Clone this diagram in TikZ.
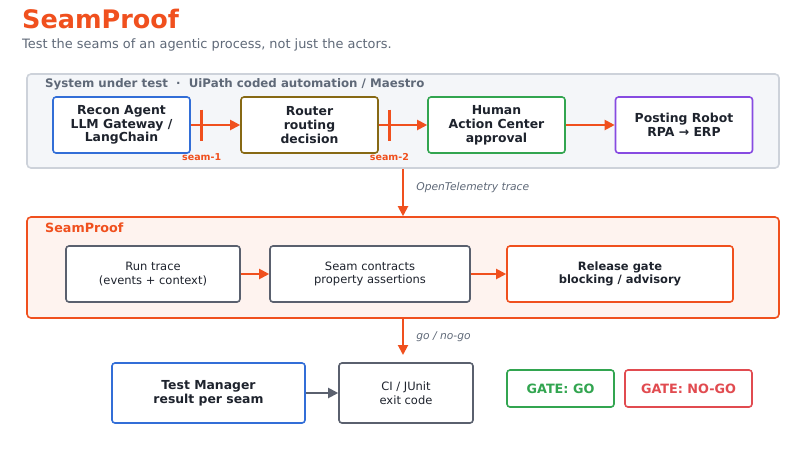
\documentclass[tikz,border=0pt]{standalone}
\usepackage{fontspec}
\setmainfont{DejaVu Sans}
\usetikzlibrary{arrows.meta,positioning}
\definecolor{seamorange}{RGB}{240,80,30}
\definecolor{inkdark}{RGB}{30,35,45}
\definecolor{inkgrey}{RGB}{95,105,120}
\definecolor{sutfill}{RGB}{244,246,249}
\definecolor{sutline}{RGB}{205,210,218}
\definecolor{prooffill}{RGB}{254,243,239}
\definecolor{agentblue}{RGB}{50,110,215}
\definecolor{routerolive}{RGB}{135,105,20}
\definecolor{humangreen}{RGB}{50,165,80}
\definecolor{robotpurple}{RGB}{135,75,225}
\definecolor{slate}{RGB}{90,96,110}
\definecolor{nogored}{RGB}{225,75,80}

\tikzset{
  frame/.style={draw, line width=1.6pt, rounded corners=4pt},
  actor/.style={draw, line width=1.6pt, rounded corners=3pt, fill=white,
    minimum width=137pt, minimum height=56pt, align=center, text=inkdark,
    font=\bfseries\fontsize{12.4}{13.8}\selectfont},
  stage/.style={draw=slate, line width=1.6pt, rounded corners=3pt, fill=white,
    minimum height=56pt, align=center, text=inkdark,
    font=\fontsize{11.5}{13.5}\selectfont},
  badge/.style={draw, line width=1.6pt, rounded corners=3pt, fill=white,
    minimum height=37pt, font=\bfseries\fontsize{12.8}{14}\selectfont},
  flow/.style={-{Triangle[length=10pt,width=10pt]}, line width=2pt, draw=seamorange},
  seamtick/.style={line width=2.4pt, draw=seamorange},
  seamlabel/.style={text=seamorange, font=\bfseries\fontsize{9.5}{11}\selectfont},
  hint/.style={text=inkgrey, font=\itshape\fontsize{10.7}{12}\selectfont, anchor=west},
  header/.style={font=\bfseries\fontsize{11.8}{13.5}\selectfont, anchor=west}
}

\begin{document}
\begin{tikzpicture}[x=1pt, y=-1pt]
  \useasboundingbox[fill=white] (0,0) rectangle (806,475);

  % Title
  \node[anchor=west, inner sep=0, text=seamorange, font=\bfseries\fontsize{25.5}{29}\selectfont] (title) at (22,19) {SeamProof};
  \node[anchor=west, inner sep=0, text=inkgrey, font=\fontsize{12.9}{15}\selectfont] (subtitle) at (22,45) {Test the seams of an agentic process, not just the actors.};

  % System under test
  \node[frame, draw=sutline, fill=sutfill, minimum width=752pt, minimum height=94pt] (sut) at (403,121) {};
  \node[header, text=inkgrey, inner sep=0] (suthead) at (45,84) {System under test\ \ ·\ \ UiPath coded automation / Maestro};

  \node[actor, draw=agentblue] (recon) at (121.5,125) {Recon Agent\\LLM Gateway /\\LangChain};
  \node[actor, draw=routerolive] (router) at (309.5,125) {Router\\routing\\decision};
  \node[actor, draw=humangreen] (human) at (496.5,125) {Human\\Action Center\\approval};
  \node[actor, draw=robotpurple] (robot) at (684,125) {Posting Robot\\RPA → ERP};

  \draw[flow] (recon) -- coordinate[pos=0.22] (seamA) (router);
  \draw[flow] (router) -- coordinate[pos=0.22] (seamB) (human);
  \draw[flow] (human) -- (robot);

  % seams
  \draw[seamtick] ([yshift=15.5pt]seamA) -- ([yshift=-15.5pt]seamA);
  \draw[seamtick] ([yshift=15.5pt]seamB) -- ([yshift=-15.5pt]seamB);
  \node[seamlabel] at ([yshift=-32pt]seamA) {seam-1};
  \node[seamlabel] at ([yshift=-32pt]seamB) {seam-2};

  % SeamProof
  \node[frame, draw=seamorange, fill=prooffill, minimum width=752pt, minimum height=101pt] (proof) at (403,267.5) {};
  \node[header, text=seamorange, inner sep=0, font=\bfseries\fontsize{12.7}{14}\selectfont] (proofhead) at (45,228) {SeamProof};

  \draw[flow] (sut) -- node[hint, pos=0.4, xshift=9pt] {OpenTelemetry trace} (proof);

  \node[stage, minimum width=174pt] (trace) at (153,274) {Run trace\\(events + context)};
  \node[stage, minimum width=200pt] (contracts) at (370,274) {Seam contracts\\property assertions};
  \node[stage, draw=seamorange, minimum width=226pt, font=\bfseries\fontsize{11.5}{13.5}\selectfont] (gate) at (620,274) {Release gate\\blocking / advisory};

  \draw[flow] (trace) -- (contracts);
  \draw[flow] (contracts) -- (gate);

  % Outputs
  \coordinate (verdict) at (403,355);
  \draw[flow] (proof) -- node[hint, pos=0.5, xshift=9pt] {go / no-go} (verdict);

  \node[actor, draw=agentblue, minimum width=193pt, minimum height=60pt] (testmgr) at (208.5,393) {Test Manager\\result per seam};
  \node[stage, minimum width=134pt, minimum height=60pt] (junit) at (406,393) {CI / JUnit\\exit code};
  \draw[-{Triangle[length=10pt,width=10pt]}, line width=2pt, draw=slate] (testmgr) -- (junit);

  \node[badge, draw=humangreen, text=humangreen, minimum width=107pt] (go) at (560.5,388.5) {GATE: GO};
  \node[badge, draw=nogored, text=nogored, minimum width=127pt] (nogo) at (688.5,388.5) {GATE: NO-GO};
\end{tikzpicture}
\end{document}
